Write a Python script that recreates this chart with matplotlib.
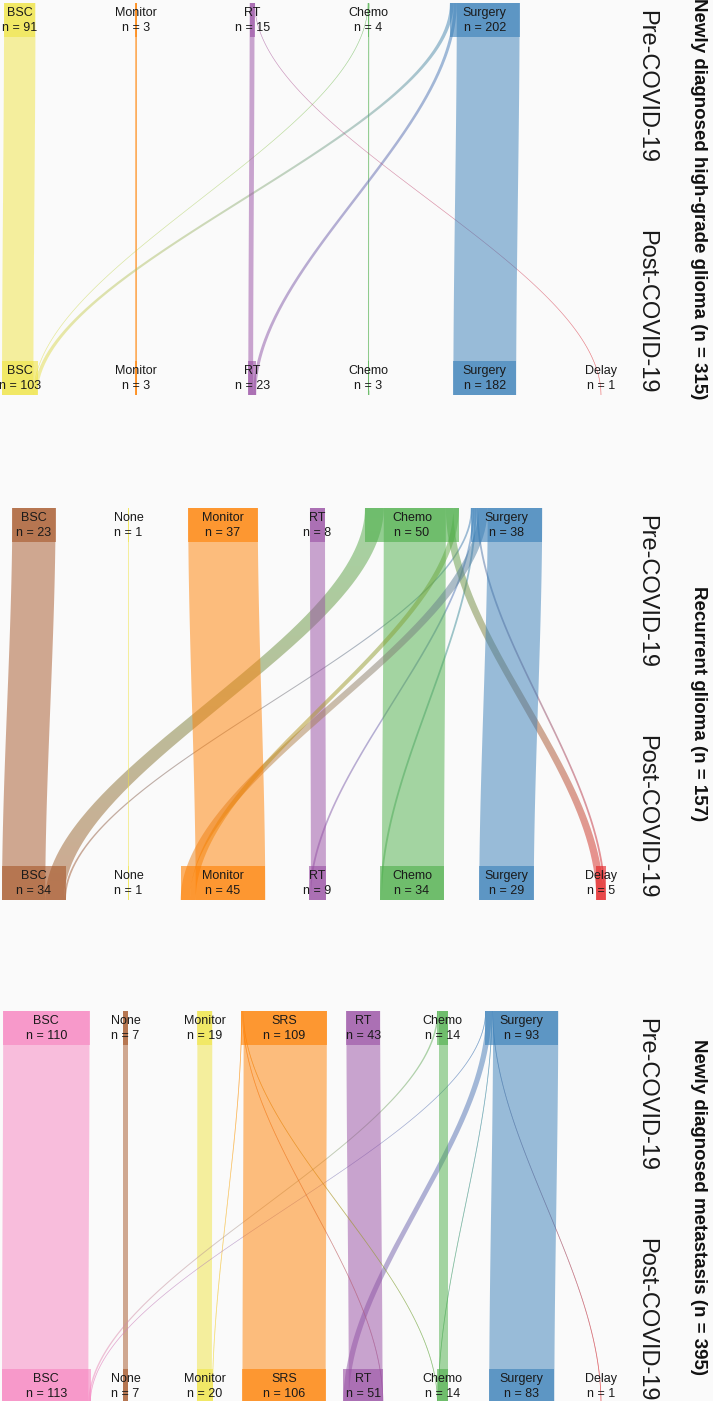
import numpy as np
import matplotlib
matplotlib.use('Agg')
import matplotlib.pyplot as plt
from matplotlib.patches import Rectangle, Polygon, PathPatch
from matplotlib.path import Path
from matplotlib.collections import LineCollection
from matplotlib.colors import to_rgb

plt.rcParams['font.family'] = ['Liberation Sans', 'DejaVu Sans']

################################################################
############################ Data ##############################
################################################################

# panel 1 - newly diagnosed high-grade glioma
hgg_cats = ['BSC', 'Monitor', 'RT', 'Chemo', 'Surgery', 'Delay']
hgg_pre = [91, 3, 15, 4, 202, 0]
hgg_post = [103, 3, 23, 3, 182, 1]
hgg_src = ['BSC', 'Monitor', 'Chemo', 'Chemo', 'Surgery', 'RT', 'Surgery', 'RT', 'Surgery']
hgg_tgt = ['BSC', 'Monitor', 'BSC', 'Chemo', 'BSC', 'RT', 'RT', 'Delay', 'Surgery']
hgg_n = [91, 3, 1, 3, 11, 14, 9, 1, 182]

# panel 2 - recurrent glioma
rec_cats = ['BSC', 'None', 'Monitor', 'RT', 'Chemo', 'Surgery', 'Delay']
rec_pre = [23, 1, 37, 8, 50, 38, 0]
rec_post = [34, 1, 45, 9, 34, 29, 5]
rec_src = ['BSC', 'Chemo', 'Surgery', 'Surgery', 'RT', 'Surgery', 'Chemo', 'Chemo',
           'Surgery', 'Surgery', 'Chemo', 'Monitor', 'None', 'Surgery']
rec_tgt = ['BSC', 'BSC', 'BSC', 'RT', 'RT', 'Chemo', 'Chemo', 'Delay',
           'Delay', 'Monitor', 'Monitor', 'Monitor', 'None', 'Surgery']
rec_n = [23, 10, 1, 1, 8, 1, 33, 4, 1, 5, 3, 37, 1, 29]

# panel 3 - newly diagnosed metastasis
met_cats = ['BSC', 'None', 'Monitor', 'SRS', 'RT', 'Chemo', 'Surgery', 'Delay']
met_pre = [110, 7, 19, 109, 43, 14, 93, 0]
met_post = [113, 7, 20, 106, 51, 14, 83, 1]
met_src = ['BSC', 'None', 'Monitor', 'SRS', 'Chemo', 'Surgery', 'Surgery', 'RT',
           'SRS', 'SRS', 'Surgery', 'Chemo', 'Surgery', 'SRS', 'Surgery']
met_tgt = ['BSC', 'None', 'Monitor', 'Monitor', 'BSC', 'BSC', 'RT', 'RT',
           'RT', 'Chemo', 'Chemo', 'Chemo', 'Delay', 'SRS', 'Surgery']
met_n = [110, 7, 19, 1, 2, 1, 7, 43, 1, 1, 1, 12, 1, 106, 83]

titles = ['Newly diagnosed high-grade glioma (n = 315)',
          'Recurrent glioma (n = 157)',
          'Newly diagnosed metastasis (n = 395)']

# colours, assigned from the right-most category backwards
PALETTE = ['#e41a1c', '#377eb8', '#4daf4a', '#984ea3',
           '#ff7f00', '#f0e442', '#a65628', '#f781bf']

W, H = 713, 1401
PANEL_H = 392
HEAD = 34 / PANEL_H
BG = '#fafafa'

################################################################
######################### Functions ############################
################################################################

def smooth(y):
    return y * y * (3 - 2 * y)


def draw_flow(ax, xl0, xr0, xl1, xr1, c0, c1, width_px):
    ys = np.linspace(0, 1, 150)
    s = smooth(ys)
    left = xl0 + (xl1 - xl0) * s
    right = xr0 + (xr1 - xr0) * s
    verts = np.vstack([np.column_stack([left, ys]),
                       np.column_stack([right[::-1], ys[::-1]])])
    if c0 == c1:
        ax.add_patch(Polygon(verts, closed=True, facecolor=c0, alpha=0.5,
                             edgecolor='none', zorder=1))
    else:
        # vertical colour gradient from source to target, clipped to the band
        r0, r1 = np.array(to_rgb(c0)), np.array(to_rgb(c1))
        grad = np.zeros((200, 2, 4))
        k = np.linspace(0, 1, 200)[:, None]
        grad[:, :, :3] = (r0 * (1 - k) + r1 * k)[:, None, :]
        grad[:, :, 3] = 0.5
        patch = PathPatch(Path(verts), facecolor='none', edgecolor='none')
        ax.add_patch(patch)
        im = ax.imshow(grad, extent=(verts[:, 0].min() - 1, verts[:, 0].max() + 1, 1, 0),
                       aspect='auto', interpolation='bilinear', zorder=1)
        im.set_clip_path(patch)
    if width_px < 1.5:
        # hairline so that n = 1 flows stay visible
        mid = (left + right) / 2
        pts = np.column_stack([mid, ys]).reshape(-1, 1, 2)
        segs = np.concatenate([pts[:-1], pts[1:]], axis=1)
        r0, r1 = np.array(to_rgb(c0)), np.array(to_rgb(c1))
        kk = ys[:-1][:, None]
        lc = LineCollection(segs, colors=r0 * (1 - kk) + r1 * kk,
                            linewidths=0.5, alpha=0.35, zorder=1)
        ax.add_collection(lc)


def draw_panel(ax, cats, pre, post, src, tgt, n, unit, title):
    cols = dict(zip(cats, PALETTE[:len(cats)][::-1]))
    left0 = max(pre[0], post[0]) * unit / 2 + 2
    step = (601 - left0) / (len(cats) - 1)
    centre = {c: left0 + i * step for i, c in enumerate(cats)}

    # stacking cursors at top and bottom of each node
    top_cur = {c: centre[c] - p * unit / 2 for c, p in zip(cats, pre)}
    bot_cur = {c: centre[c] - p * unit / 2 for c, p in zip(cats, post)}

    for s, t, v in zip(src, tgt, n):
        w = v * unit
        xl0 = top_cur[s]
        xl1 = bot_cur[t]
        top_cur[s] += w
        bot_cur[t] += w
        draw_flow(ax, xl0, xl0 + w, xl1, xl1 + w, cols[s], cols[t], w)

    for c, p, q in zip(cats, pre, post):
        for val, y0 in ((p, 0), (q, 1 - HEAD)):
            if val == 0:
                continue
            w = val * unit
            ax.add_patch(Rectangle((centre[c] - w / 2, y0), w, HEAD,
                                   facecolor=cols[c], alpha=0.6,
                                   edgecolor='none', zorder=2))
            ax.text(centre[c], y0 + HEAD * 0.3, c, ha='center', va='center',
                    fontsize=9, color='#1a1a1a', zorder=3)
            ax.text(centre[c], y0 + HEAD * 0.73, 'n = %d' % val, ha='center',
                    va='center', fontsize=9, color='#1a1a1a', zorder=3)

    ax.text(646, 0.018, 'Pre-COVID-19', rotation=-90, ha='center', va='top',
            fontsize=17, color='#1a1a1a')
    ax.text(646, 0.997, 'Post-COVID-19', rotation=-90, ha='center', va='bottom',
            fontsize=17, color='#1a1a1a')
    ax.text(699, 0.5, title, rotation=-90, ha='center', va='center',
            fontsize=13.5, fontweight='bold', color='#111111')

################################################################
########################### Plot ###############################
################################################################

fig = plt.figure(figsize=(W / 100, H / 100), dpi=100)
fig.patch.set_facecolor(BG)

panels = [(hgg_cats, hgg_pre, hgg_post, hgg_src, hgg_tgt, hgg_n, 0.345),
          (rec_cats, rec_pre, rec_post, rec_src, rec_tgt, rec_n, 1.88),
          (met_cats, met_pre, met_post, met_src, met_tgt, met_n, 0.785)]
tops = [3, 508, 1011]

for (cats, pre, post, src, tgt, n, unit), top, title in zip(panels, tops, titles):
    ax = fig.add_axes([0, 1 - (top + PANEL_H) / H, 1, PANEL_H / H])
    ax.set_facecolor(BG)
    draw_panel(ax, cats, pre, post, src, tgt, n, unit, title)
    ax.set_xlim(0, W)
    ax.set_ylim(1, 0)
    ax.axis('off')

plt.savefig('out.png', dpi=100, facecolor=BG)
